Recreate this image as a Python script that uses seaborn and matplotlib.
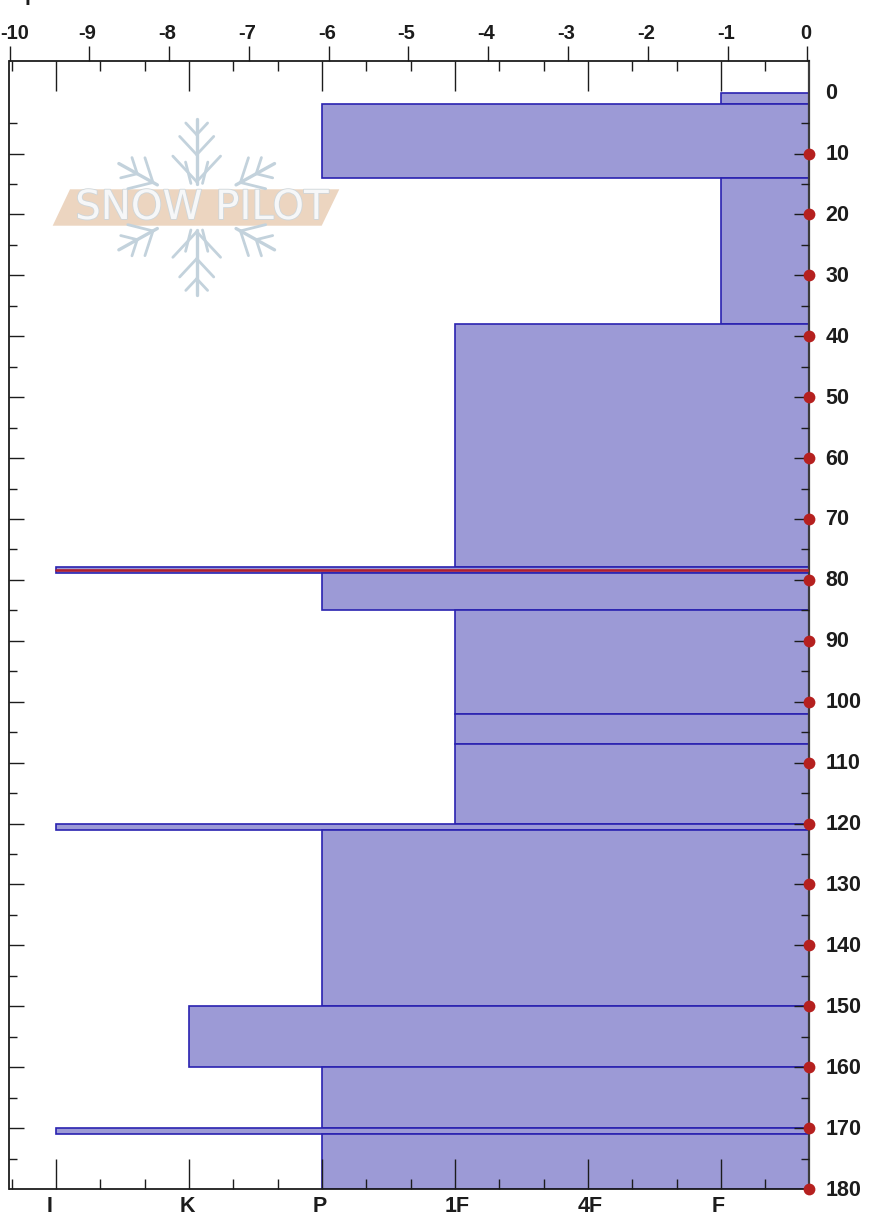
"""Snow pit hardness profile with shear test markers."""
import matplotlib.patheffects as pe
import matplotlib.pyplot as plt
import matplotlib.transforms as mtransforms
import numpy as np
import pandas as pd
import seaborn as sns
from matplotlib.patches import Polygon

# layers, depth in cm from the top of the pit
layer_top = [0, 1.8, 14, 38, 77.9, 78.9, 85, 102, 107, 120, 121, 150, 160, 170, 171]
layer_bottom = [1.8, 14, 38, 77.9, 78.9, 85, 102, 107, 120, 121, 150, 160, 170, 171, 180]
layer_hardness = ["F", "P", "F", "1F", "I", "P", "1F", "1F", "1F", "I", "P", "K", "P", "I", "P"]

hardness_labels = ["I", "K", "P", "1F", "4F", "F"]
hardness_values = [-9.42, -7.76, -6.09, -4.43, -2.76, -1.10]
shear_top_values = [-10, -9, -8, -7, -6, -5, -4, -3, -2, -1, 0]
depth_labels = [0, 10, 20, 30, 40, 50, 60, 70, 80, 90, 100, 110, 120, 130, 140, 150, 160, 170, 180]
test_depths = [10, 20, 30, 40, 50, 60, 70, 80, 90, 100, 110, 120, 130, 140, 150, 160, 170, 180]
weak_layer_depth = 78.4

W, H = 870, 1215
PX = 72 / 100  # points per pixel at dpi 100

sns.set_theme(style="white")
plt.rcParams["font.family"] = ["Liberation Sans", "DejaVu Sans"]
plt.rcParams["axes.unicode_minus"] = False

FONT = 15.5
FONT_TOP = 14.5
INK = "#1c1c1c"


def shift_label(lab, px, py=0):
    lab.set_transform(lab.get_transform() + mtransforms.ScaledTranslation(px / 100, py / 100, fig.dpi_scale_trans))


fig = plt.figure(figsize=(W / 100, H / 100), dpi=100, facecolor="white")
left, right, top, bottom = 9.5, 809, 61, 1189
ax = fig.add_axes([left / W, 1 - bottom / H, (right - left) / W, (bottom - top) / H])

value_of = dict(zip(hardness_labels, hardness_values))
df = pd.DataFrame({"depth": layer_top, "value": [value_of[h] for h in layer_hardness]})
edges = layer_top + [layer_bottom[-1]]
sns.histplot(
    data=df, y="depth", weights="value", bins=edges, ax=ax,
    color="#9c9ad6", alpha=1, edgecolor="#2a22b0", linewidth=1.2,
)
ax.set_xlim(-10, 0)
ax.set_ylim(180, -5.19)
ax.set_xlabel("")
ax.set_ylabel("")
ax.set_axisbelow(False)

# weak layer line and test markers
sns.lineplot(x=[value_of["I"], 0], y=[weak_layer_depth, weak_layer_depth], ax=ax,
             color="#b0202f", linewidth=1.9, orient="y", estimator=None, sort=False, zorder=4)
sns.scatterplot(x=np.zeros(len(test_depths)), y=test_depths, ax=ax, color="#b5201f",
                s=72, linewidth=0, marker="o", clip_on=False, zorder=6)

# numeric scale above
ax_top = ax.twiny()
ax_top.set_xlim(-10, 0.019)
ax_top.set_xticks(shear_top_values)
ax_top.set_xticklabels([str(v) for v in shear_top_values], fontsize=FONT_TOP, fontweight="bold", color=INK)
ax_top.tick_params(axis="x", direction="out", top=True, bottom=False, length=15 * PX,
                   width=1.0, color=INK, pad=3 * PX)
for lab in ax_top.get_xticklabels():
    shift_label(lab, 5 if lab.get_text() == "-10" else -2)

# depth labels on the right
ax_right = ax.twinx()
ax_right.set_ylim(180, -5.19)
ax_right.set_yticks(depth_labels)
ax_right.set_yticklabels([str(v) for v in depth_labels], fontsize=FONT, fontweight="bold", color=INK)
ax_right.tick_params(axis="y", right=True, left=False, length=0, pad=16.5 * PX)
for lab in ax_right.get_yticklabels():
    shift_label(lab, 0, 1.5)
for a in (ax_top, ax_right):
    a.grid(False)
    for s in a.spines.values():
        s.set_visible(False)

# hardness ticks, inside both top and bottom (twins reset these, so set them afterwards)
ax.set_xticks(hardness_values)
ax.set_xticklabels(hardness_labels, fontsize=FONT, fontweight="bold", color=INK)
step = (hardness_values[-1] - hardness_values[0]) / 5 / 3
minor_x = [hardness_values[0] + k * step for k in range(-1, 17) if k % 3 != 0]
ax.set_xticks(minor_x, minor=True)
ax.tick_params(axis="x", which="major", direction="in", top=True, bottom=True,
               length=30 * PX, width=1.0, color=INK, pad=7 * PX)
ax.tick_params(axis="x", which="minor", direction="in", top=True, bottom=True,
               length=10 * PX, width=1.0, color=INK)

# depth ticks on both sides
ax.set_yticks(test_depths[:-1])
ax.set_yticks(np.arange(5, 180, 10), minor=True)
ax.tick_params(axis="y", which="major", direction="in", left=True, right=True,
               length=15 * PX, width=1.0, color=INK, labelleft=False, labelright=False)
ax.tick_params(axis="y", which="minor", direction="in", left=True, right=True,
               length=8 * PX, width=1.0, color=INK)

for side in ("left", "top", "bottom"):
    ax.spines[side].set_linewidth(1.3)
    ax.spines[side].set_color(INK)
    ax.spines[side].set_visible(True)
ax.spines["right"].set_linewidth(1.6)
ax.spines["right"].set_color("#3c3c3c")
ax.spines["right"].set_visible(True)

# nudge hardness labels to where the reference has them
label_shift = {"I": -6, "K": -1, "P": -2, "1F": 2, "4F": 2, "F": -3}
for lab in ax.get_xticklabels():
    shift_label(lab, label_shift[lab.get_text()])

# clipped title left over at the top edge of the image
fig.text(25 / W, 1.0, "p", fontsize=FONT, fontweight="bold", color=INK, va="baseline", ha="left")

# watermark, drawn on a pixel overlay
wm = fig.add_axes([0, 0, 1, 1], facecolor="none")
wm.set_xlim(0, W)
wm.set_ylim(H, 0)
wm.axis("off")

FLAKE = "#c3d2dc"
cx, cy = 196.7, 206.7


def draw_arm(angle, r0, r1, branches):
    ux, uy = np.sin(np.radians(angle)), -np.cos(np.radians(angle))
    wm.plot([cx + r0 * ux, cx + r1 * ux], [cy + r0 * uy, cy + r1 * uy], color=FLAKE, lw=2.4, solid_capstyle="round")
    for base, length in branches:
        for turn in (-43, 43):
            a = np.radians(angle + turn)
            bx, by = cx + base * ux, cy + base * uy
            wm.plot([bx, bx + length * np.sin(a)], [by, by - length * np.cos(a)], color=FLAKE, lw=2.0,
                    solid_capstyle="round")


for ang in (0, 180):
    draw_arm(ang, 23, 88, [(25, 35), (52, 25), (72, 16)])
for ang in (61, 119, 241, 299):
    draw_arm(ang, 45, 89, [(50, 26), (68, 17)])
for ang in (14, 166, 194, 346):
    r0, r1 = 24, 46
    ux, uy = np.sin(np.radians(ang)), -np.cos(np.radians(ang))
    wm.plot([cx + r0 * ux, cx + r1 * ux], [cy + r0 * uy, cy + r1 * uy], color=FLAKE, lw=2.0)

wm.add_patch(Polygon([(70, 189.3), (339.3, 189.3), (321.7, 225.7), (52.7, 225.7)], closed=True,
                     facecolor="#ecd5c0", edgecolor="none"))
wm.text(202, 208, "SNOW PILOT", fontsize=29, family="DejaVu Sans", color="#f6f7f8", ha="center", va="center",
        path_effects=[pe.withStroke(linewidth=1.2, foreground="#cfd6da")])

fig.savefig("out.png", dpi=100)
